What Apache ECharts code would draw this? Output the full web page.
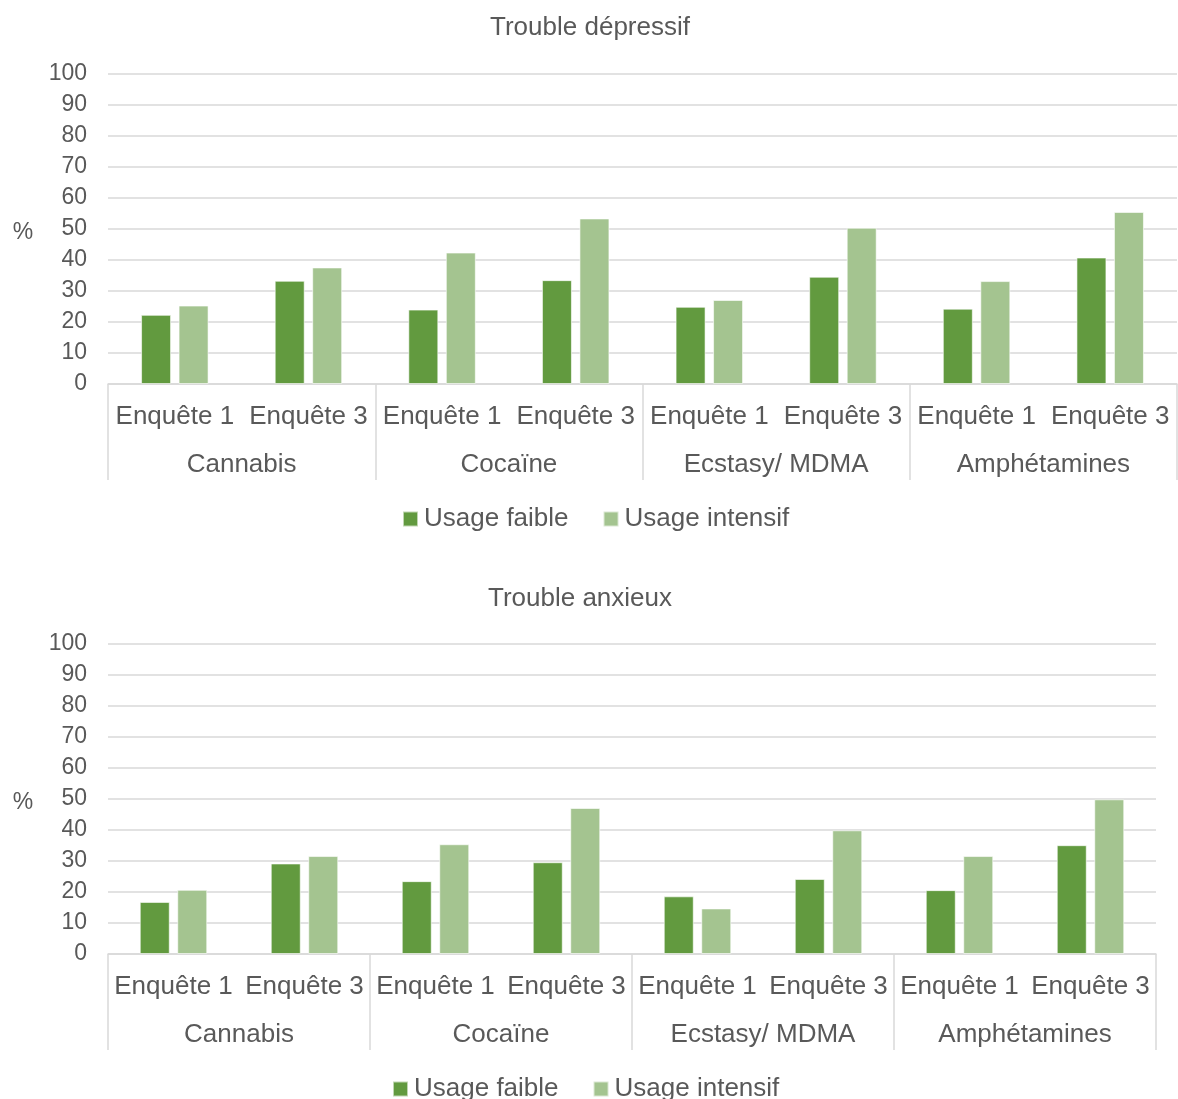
<!DOCTYPE html>
<html>
<head>
<meta charset="utf-8">
<script src="https://cdn.jsdelivr.net/npm/echarts@6/dist/echarts.min.js"></script>
<style>
  html, body { margin: 0; padding: 0; background: #fff; }
  #chart { width: 1178px; height: 1099px; }
</style>
</head>
<body>
<div id="chart"></div>
<script>
// Substances (outer category level) and surveys (inner level)
const substances = ['Cannabis', 'Cocaïne', 'Ecstasy/ MDMA', 'Amphétamines'];
const surveys = ['Enquête 1', 'Enquête 3'];
const seriesNames = ['Usage faible', 'Usage intensif'];
const yTicks = [0, 10, 20, 30, 40, 50, 60, 70, 80, 90, 100];

// Trouble dépressif (%), ordered substance by substance, Enquête 1 then Enquête 3
const depressifFaible   = [22.3, 33.3, 24.0, 33.5, 24.9, 34.6, 24.3, 40.8];
const depressifIntensif = [25.3, 37.6, 42.4, 53.4, 27.1, 50.4, 33.2, 55.5];

// Trouble anxieux (%)
const anxieuxFaible   = [16.8, 29.2, 23.5, 29.6, 18.6, 24.2, 20.6, 35.1];
const anxieuxIntensif = [20.7, 31.6, 35.4, 47.1, 14.7, 39.9, 31.6, 49.9];

const innerLabels = substances.flatMap(() => surveys);

const FONT = '"Liberation Sans", Arial, sans-serif';
const TEXT = '#595959';
const GRID = '#D9D9D9';
const DARK = '#629A3F';
const LIGHT = '#A4C490';

function panelAxes(gi) {
  return [
    {
      type: 'category', gridIndex: gi, data: innerLabels, position: 'bottom',
      axisLine: { show: true, lineStyle: { color: GRID, width: 1.5 } },
      axisTick: { show: false },
      axisLabel: { interval: 0, margin: 20, fontSize: 26, color: TEXT, fontFamily: FONT }
    },
    {
      type: 'category', gridIndex: gi, data: substances, position: 'bottom',
      axisLine: { show: false },
      axisTick: { show: true, interval: 0, length: 96, lineStyle: { color: GRID, width: 1.5 } },
      axisLabel: { interval: 0, margin: 68, fontSize: 26, color: TEXT, fontFamily: FONT }
    }
  ];
}

function panelYAxis(gi) {
  return {
    type: 'value', gridIndex: gi, min: yTicks[0], max: yTicks[yTicks.length - 1], interval: 10,
    axisLine: { show: false }, axisTick: { show: false },
    axisLabel: { margin: 21, fontSize: 23, color: TEXT, fontFamily: FONT, padding: [4, 0, 0, 0] },
    splitLine: { lineStyle: { color: GRID, width: 1.5 } }
  };
}

function bars(name, color, data, axisIdx, gi) {
  return {
    name: name, type: 'bar', xAxisIndex: axisIdx, yAxisIndex: gi,
    data: data, barWidth: 30, barGap: '25%',
    itemStyle: { color: color, borderColor: 'rgba(255,255,255,0.6)', borderWidth: 1 },
    emphasis: { disabled: true }
  };
}

const titleStyle = { fontSize: 26, fill: TEXT, fontFamily: FONT, textAlign: 'center', textVerticalAlign: 'middle' };

function legendAt(left, top) {
  return {
    data: seriesNames, left: left, top: top, padding: 0,
    itemWidth: 15, itemHeight: 15, itemGap: 34,
    icon: 'rect', selectedMode: false,
    textStyle: { fontSize: 26, color: TEXT, fontFamily: FONT, padding: [0, 0, 0, 1] }
  };
}

const option = {
  animation: false,
  backgroundColor: '#fff',
  color: [DARK, LIGHT],
  graphic: [
    { type: 'text', x: 590, y: 28, style: Object.assign({ text: 'Trouble dépressif' }, titleStyle) },
    { type: 'text', x: 580, y: 599, style: Object.assign({ text: 'Trouble anxieux' }, titleStyle) },
    { type: 'text', x: 23, y: 233, style: Object.assign({ text: '%' }, titleStyle, { fontSize: 23 }) },
    { type: 'text', x: 23, y: 803, style: Object.assign({ text: '%' }, titleStyle, { fontSize: 23 }) }
  ],
  legend: [legendAt(402, 506), legendAt(392, 1076)],
  grid: [
    { left: 108, top: 74, width: 1069, height: 310 },
    { left: 108, top: 644, width: 1048, height: 310 }
  ],
  xAxis: panelAxes(0).concat(panelAxes(1)),
  yAxis: [panelYAxis(0), panelYAxis(1)],
  series: [
    bars(seriesNames[0], DARK, depressifFaible, 0, 0),
    bars(seriesNames[1], LIGHT, depressifIntensif, 0, 0),
    bars(seriesNames[0], DARK, anxieuxFaible, 2, 1),
    bars(seriesNames[1], LIGHT, anxieuxIntensif, 2, 1)
  ]
};

const chart = echarts.init(document.getElementById('chart'), null, { renderer: 'canvas' });
chart.setOption(option);
</script>
</body>
</html>
